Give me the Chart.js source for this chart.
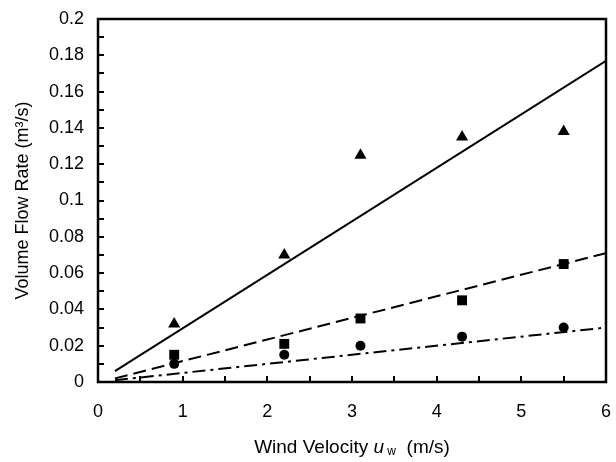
<!DOCTYPE html>
<html>
<head>
<meta charset="utf-8">
<script src="https://cdn.jsdelivr.net/npm/chart.js@4"></script>
<style>
  html, body { margin: 0; padding: 0; background: #fff; }
  #wrap { width: 616px; height: 462px; }
</style>
</head>
<body>
<div id="wrap"><canvas id="myChart" width="616" height="462"></canvas></div>
<script>
// measured points
const windSpeed = [0.9, 2.2, 3.1, 4.3, 5.5];
const flowTriangle = [0.032, 0.070, 0.125, 0.135, 0.138];
const flowSquare = [0.015, 0.021, 0.035, 0.045, 0.065];
const flowCircle = [0.010, 0.015, 0.020, 0.025, 0.030];

// model lines
const lineX = [0.2, 6];
const lineSolid = [0.006, 0.177];
const lineDashed = [0.002, 0.071];
const lineDashDot = [0.001, 0.030];

// tick labels
const xTickLabels = ['0', '1', '2', '3', '4', '5', '6'];
const yTickLabels = ['0', '0.02', '0.04', '0.06', '0.08', '0.1', '0.12', '0.14', '0.16', '0.18', '0.2'];

const FONT = "'Liberation Sans', Arial, sans-serif";

function pts(xs, ys) {
  return xs.map((x, i) => ({ x: x, y: ys[i] }));
}

// box + inward tick marks + x title
const frame = {
  id: 'frame',
  afterDraw(chart) {
    const c = chart.ctx, a = chart.chartArea;
    const xs = chart.scales.x, ys = chart.scales.y;
    c.save();
    c.strokeStyle = '#000';
    c.lineWidth = 2;
    for (let v = 0.5; v < 6; v += 0.5) {
      const px = Math.round(xs.getPixelForValue(v));
      c.beginPath(); c.moveTo(px, a.bottom); c.lineTo(px, a.bottom - 6); c.stroke();
    }
    for (let k = 1; k < 20; k++) {
      const py = Math.round(ys.getPixelForValue(k / 100));
      c.beginPath(); c.moveTo(a.left, py); c.lineTo(a.left + 6, py); c.stroke();
    }
    c.lineWidth = 2.5;
    c.strokeRect(a.left, a.top, a.right - a.left, a.bottom - a.top);

    const parts = [
      { t: 'Wind Velocity ', f: '19px ' + FONT, dy: 0 },
      { t: 'u', f: 'italic 19px ' + FONT, dy: 0 },
      { t: ' w', f: '12px ' + FONT, dy: 2 },
      { t: '  (m/s)', f: '19px ' + FONT, dy: 0 }
    ];
    let w = 0;
    parts.forEach(p => { c.font = p.f; w += c.measureText(p.t).width; });
    let x = (a.left + a.right) / 2 - w / 2;
    const y = 453;
    c.fillStyle = '#000';
    c.textBaseline = 'alphabetic';
    c.textAlign = 'left';
    parts.forEach(p => {
      c.font = p.f;
      c.fillText(p.t, x, y + p.dy);
      x += c.measureText(p.t).width;
    });
    c.restore();
  }
};

const ctx = document.getElementById('myChart').getContext('2d');

const myChart = new Chart(ctx, {
  type: 'scatter',
  data: {
    datasets: [
      { data: pts(windSpeed, flowTriangle), pointStyle: 'triangle', pointRadius: 7,
        backgroundColor: '#000', borderColor: '#000', borderWidth: 0 },
      { data: pts(windSpeed, flowSquare), pointStyle: 'rect', pointRadius: 7,
        backgroundColor: '#000', borderColor: '#000', borderWidth: 0 },
      { data: pts(windSpeed, flowCircle), pointStyle: 'circle', pointRadius: 5,
        backgroundColor: '#000', borderColor: '#000', borderWidth: 0 },
      { data: pts(lineX, lineSolid), showLine: true, pointRadius: 0,
        borderColor: '#000', borderWidth: 2 },
      { data: pts(lineX, lineDashed), showLine: true, pointRadius: 0,
        borderColor: '#000', borderWidth: 2, borderDash: [13, 6] },
      { data: pts(lineX, lineDashDot), showLine: true, pointRadius: 0,
        borderColor: '#000', borderWidth: 2, borderDash: [13, 5, 3, 5] }
    ]
  },
  options: {
    responsive: false,
    animation: false,
    layout: { padding: { top: 19, right: 10, left: 0, bottom: 0 } },
    plugins: {
      legend: { display: false },
      tooltip: { enabled: false }
    },
    scales: {
      x: {
        type: 'linear', min: 0, max: 6,
        afterBuildTicks: s => { s.ticks = xTickLabels.map(t => ({ value: +t })); },
        afterFit: s => { s.height = 462 - 382; s.paddingLeft = 0; s.paddingRight = 0; },
        grid: { display: false, drawTicks: false },
        border: { display: false },
        ticks: {
          padding: 19, color: '#000', font: { family: FONT, size: 18 },
          callback: (v, i) => xTickLabels[i]
        }
      },
      y: {
        type: 'linear', min: 0, max: 0.2,
        afterBuildTicks: s => { s.ticks = yTickLabels.map(t => ({ value: +t })); },
        afterFit: s => { s.width = 98; s.paddingTop = 0; s.paddingBottom = 0; },
        grid: { display: false, drawTicks: false },
        border: { display: false },
        ticks: {
          padding: 14, color: '#000', font: { family: FONT, size: 18 },
          callback: (v, i) => yTickLabels[i]
        },
        title: {
          display: true, text: 'Volume Flow Rate (m³/s)', color: '#000',
          font: { family: FONT, size: 18 }, padding: { top: 12, bottom: 0 }
        }
      }
    }
  },
  plugins: [frame]
});
</script>
</body>
</html>
